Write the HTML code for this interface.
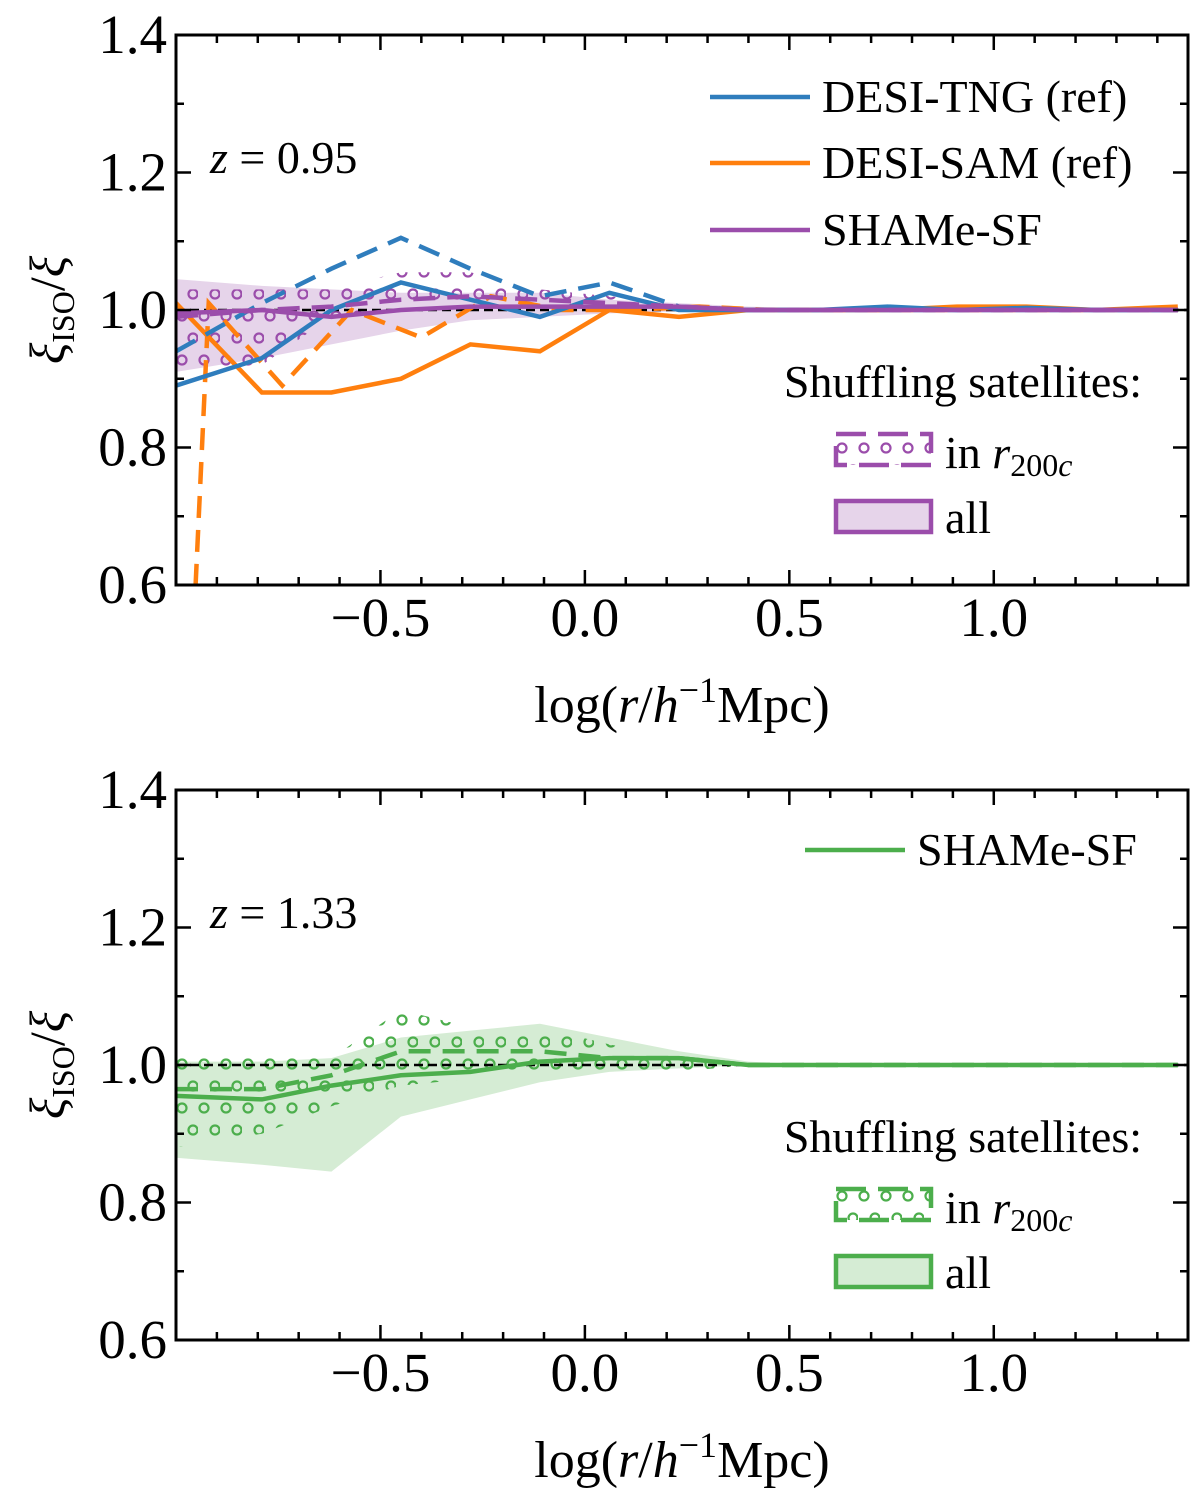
<!DOCTYPE html>
<html><head><meta charset="utf-8">
<style>
html,body{margin:0;padding:0;background:#fff;}
svg{display:block;font-family:"Liberation Serif",serif;}
</style></head>
<body>
<svg id="chart" width="1200" height="1503" viewBox="0 0 1200 1503" xmlns="http://www.w3.org/2000/svg">
<defs>
<pattern id="dotsP" width="22" height="44" patternUnits="userSpaceOnUse">
<circle cx="6" cy="8" r="4.5" fill="none" stroke="#9b4dab" stroke-width="2.2"/>
<circle cx="17" cy="30" r="4.5" fill="none" stroke="#9b4dab" stroke-width="2.2"/>
</pattern>
<pattern id="dotsG" width="22" height="44" patternUnits="userSpaceOnUse">
<circle cx="6" cy="8" r="4.5" fill="none" stroke="#4cae4c" stroke-width="2.2"/>
<circle cx="17" cy="30" r="4.5" fill="none" stroke="#4cae4c" stroke-width="2.2"/>
</pattern>
</defs>
</svg>
<script>
// ---- data ----
const xsGrid = [-1.0,-0.79,-0.62,-0.45,-0.28,-0.11,0.06,0.23,0.40,0.57,0.74,0.91,1.08,1.25,1.45];
const tngSolid = [0.89,0.93,1.00,1.04,1.015,0.99,1.025,1.0,1.0,1.0,1.005,1.0,1.003,1.0,1.0];
const tngDashed = [0.94,1.01,1.06,1.105,1.06,1.02,1.04,1.005,1.0,1.0,1.0,1.0,1.0,1.0,1.0];
const samSolid = [1.01,0.88,0.88,0.90,0.95,0.94,1.00,0.99,1.00,1.00,1.00,1.005,1.005,1.00,1.005];
const samDashedX = [-0.96,-0.92,-0.74,-0.57,-0.40,-0.23,-0.06,0.11,0.28,0.45,0.62,0.79,0.96,1.13,1.30,1.45];
const samDashed = [0.5,1.01,0.89,1.0,0.96,1.02,1.0,1.0,1.005,1.0,1.0,1.0,1.0,1.0,1.0,1.0];
const shamPSolid = [0.995,1.0,0.99,1.0,1.005,1.005,1.005,1.005,1.0,1.0,1.0,1.0,1.0,1.0,1.0];
const shamPDashed = [0.99,1.0,1.005,1.015,1.02,1.015,1.01,1.005,1.0,1.0,1.0,1.0,1.0,1.0,1.0];
const bandPUp = [1.045,1.035,1.03,1.025,1.025,1.025,1.015,1.01,1.005,1.002,1.0,1.0,1.0,1.0,1.0];
const bandPLo = [0.91,0.93,0.95,0.97,0.985,0.99,0.995,0.998,0.999,1.0,1.0,1.0,1.0,1.0,1.0];
const dotPUp = [1.03,1.03,1.03,1.055,1.055,1.03,1.02,1.01,1.0,1.0,1.0,1.0,1.0,1.0,1.0];
const dotPLo = [0.90,0.92,0.99,1.0,1.0,1.0,1.0,1.0,1.0,1.0,1.0,1.0,1.0,1.0,1.0];
const shamGSolid = [0.955,0.95,0.97,0.985,0.99,1.005,1.01,1.01,1.0,1.0,1.0,1.0,1.0,1.0,1.0];
const shamGDashed = [0.965,0.965,0.985,1.02,1.02,1.02,1.01,1.01,1.0,1.0,1.0,1.0,1.0,1.0,1.0];
const bandGUp = [1.005,1.005,1.01,1.04,1.05,1.06,1.04,1.02,1.005,1.0,1.0,1.0,1.0,1.0,1.0];
const bandGLo = [0.865,0.855,0.845,0.925,0.95,0.975,0.99,0.995,1.0,1.0,1.0,1.0,1.0,1.0,1.0];
const dotGUp = [1.01,1.01,1.01,1.08,1.055,1.055,1.03,1.01,1.0,1.0,1.0,1.0,1.0,1.0,1.0];
const dotGLo = [0.88,0.90,0.94,0.97,0.98,0.98,0.99,0.99,1.0,1.0,1.0,1.0,1.0,1.0,1.0];
const xTicks = [-0.5,0.0,0.5,1.0];
const xTickLabels = ["\u22120.5","0.0","0.5","1.0"];
const yTicks = [0.6,0.8,1.0,1.2,1.4];
const yTickLabels = ["0.6","0.8","1.0","1.2","1.4"];

const NS="http://www.w3.org/2000/svg";
const svg=document.getElementById('chart');
const L=176,R=1188,XMIN=-1.0,XMAX=1.475;
function X(v){return L+(v-XMIN)/(XMAX-XMIN)*(R-L);}
function mk(tag,attrs,parent){const e=document.createElementNS(NS,tag);for(const k in attrs)e.setAttribute(k,attrs[k]);(parent||svg).appendChild(e);return e;}

function panel(top,bot,cfg){
  const Y=v=>bot-(v-0.6)/0.8*(bot-top);
  const g=mk('g',{});
  
  
  const clipId='clip'+top;
  const cp=mk('clipPath',{id:clipId},g);mk('rect',{x:L,y:top,width:R-L,height:bot-top},cp);
  const pg=mk('g',{'clip-path':'url(#'+clipId+')'},g);
  function poly(xs,up,lo){let d='M';xs.forEach((x,i)=>d+=X(x).toFixed(1)+','+Y(up[i]).toFixed(1)+' L');for(let i=xs.length-1;i>=0;i--)d+=X(xs[i]).toFixed(1)+','+Y(lo[i]).toFixed(1)+(i?' L':'');return d+'Z';}
  function line(xs,ys){return xs.map((x,i)=>(i?'L':'M')+X(x).toFixed(1)+','+Y(ys[i]).toFixed(1)).join(' ');}
  const band=mk('path',{d:poly(xsGrid,cfg.bandUp,cfg.bandLo),fill:cfg.bandFill,stroke:'none'},pg);
  
  
  const dots=mk('path',{d:poly(xsGrid,cfg.dotUp,cfg.dotLo),fill:'url(#'+cfg.pattern+')',stroke:'none'},pg);
  
  
  const ref=mk('line',{x1:L,x2:R,y1:Y(1),y2:Y(1),stroke:'#000','stroke-width':2.5,'stroke-dasharray':'9,5'},pg);
  
  
  cfg.series.forEach(s=>{
    const p=mk('path',{d:line(s.x,s.y),fill:'none',stroke:s.c,'stroke-width':4.5,'stroke-dasharray':s.dash||'none'},pg);
    
    
  });
  const fr=mk('rect',{x:L,y:top,width:R-L,height:bot-top,fill:'none',stroke:'#000','stroke-width':3},g);
  
  
  let td='';
  for(let i=-9;i<=14;i++){const v=i/10,x=X(v);const maj=Math.abs(v*2-Math.round(v*2))<1e-6;const len=maj?15:8;td+=`M${x},${bot}v${-len}M${x},${top}v${len}`;}
  for(let i=6;i<=14;i++){const y=Y(i/10);const len=(i%2==0)?15:8;td+=`M${L},${y}h${len}M${R},${y}h${-len}`;}
  const tk=mk('path',{d:td,stroke:'#000','stroke-width':2.5,fill:'none'},g);
  
  
  xTicks.forEach((v,i)=>{const t=mk('text',{x:X(v),y:bot+51,'font-size':55,'text-anchor':'middle'},g);t.textContent=xTickLabels[i];
    
    });
  yTicks.forEach((v,i)=>{const t=mk('text',{x:167,y:Y(v)+18,'font-size':55,'text-anchor':'end'},g);t.textContent=yTickLabels[i];
    
    });
  const xl=mk('text',{x:682,y:bot+137,'font-size':52,'text-anchor':'middle'},g);
  xl.innerHTML='log(<tspan font-style="italic">r</tspan>/<tspan font-style="italic">h</tspan><tspan dy="-20" font-size="36">\u22121</tspan><tspan dy="20">Mpc)</tspan>';
  
  
  const yl=mk('text',{transform:`translate(64,${Y(1)}) rotate(-90)`,'font-size':50,'text-anchor':'middle'},g);
  yl.innerHTML='<tspan font-style="italic">\u03BE</tspan><tspan dy="10" font-size="32">ISO</tspan><tspan dy="-10">/</tspan><tspan font-style="italic">\u03BE</tspan>';
  
  
  const zl=mk('text',{x:210,y:top+138,'font-size':46},g);
  zl.innerHTML='<tspan font-style="italic">z</tspan> = '+cfg.z;
  
  
  cfg.legend.forEach(e=>{
    const lg=mk('g',{},g);
    
    
    mk('line',{x1:e.x1,x2:e.x1+100,y1:top+e.dy,y2:top+e.dy,stroke:e.c,'stroke-width':4.5},lg);
    const t=mk('text',{x:e.x1+112,y:top+e.dy+15,'font-size':46},lg);t.textContent=e.label;
  });
  const sh=mk('text',{x:1142,y:top+362,'font-size':46,'text-anchor':'end'},g);sh.textContent='Shuffling satellites:';
  
  
  const p1=mk('g',{},g);
  
  
  mk('rect',{x:836,y:top+399,width:95,height:31,fill:'url(#'+cfg.pattern+')'},p1);
  mk('rect',{x:836,y:top+399,width:95,height:31,fill:'none',stroke:cfg.edge,'stroke-width':4.5,'stroke-dasharray':'30,12'},p1);
  const t1=mk('text',{x:945,y:top+433,'font-size':46},p1);
  t1.innerHTML='in <tspan font-style="italic">r</tspan><tspan font-size="32" dy="8">200<tspan font-style="italic">c</tspan></tspan>';
  const p2=mk('g',{},g);
  
  
  mk('rect',{x:836,y:top+466,width:95,height:31,fill:cfg.bandFill,stroke:cfg.edge,'stroke-width':4.5},p2);
  const t2=mk('text',{x:945,y:top+498,'font-size':46},p2);t2.textContent='all';
}

panel(35,585,{name:'panel-z095',z:'0.95',bandUp:bandPUp,bandLo:bandPLo,dotUp:dotPUp,dotLo:dotPLo,
  bandFill:'#e6d4ea',pattern:'dotsP',edge:'#9b4dab',
  series:[
    {name:'desi-sam-dashed',x:samDashedX,y:samDashed,c:'#ff7f0e',dash:'22,12'},
    {name:'desi-sam-solid',x:xsGrid,y:samSolid,c:'#ff7f0e'},
    {name:'desi-tng-dashed',x:xsGrid,y:tngDashed,c:'#2f7dbd',dash:'22,12'},
    {name:'desi-tng-solid',x:xsGrid,y:tngSolid,c:'#2f7dbd'},
    {name:'shame-sf-dashed',x:xsGrid,y:shamPDashed,c:'#9b4dab',dash:'22,12'},
    {name:'shame-sf-solid',x:xsGrid,y:shamPSolid,c:'#9b4dab'}],
  legend:[{x1:710,dy:62,c:'#2f7dbd',label:'DESI-TNG (ref)'},{x1:710,dy:128,c:'#ff7f0e',label:'DESI-SAM (ref)'},{x1:710,dy:195,c:'#9b4dab',label:'SHAMe-SF'}]});

panel(790,1340,{name:'panel-z133',z:'1.33',bandUp:bandGUp,bandLo:bandGLo,dotUp:dotGUp,dotLo:dotGLo,
  bandFill:'#d5ecd4',pattern:'dotsG',edge:'#4cae4c',
  series:[
    {name:'shame-sf-dashed',x:xsGrid,y:shamGDashed,c:'#4cae4c',dash:'22,12'},
    {name:'shame-sf-solid',x:xsGrid,y:shamGSolid,c:'#4cae4c'}],
  legend:[{x1:805,dy:60,c:'#4cae4c',label:'SHAMe-SF'}]});
</script>
</body></html>
